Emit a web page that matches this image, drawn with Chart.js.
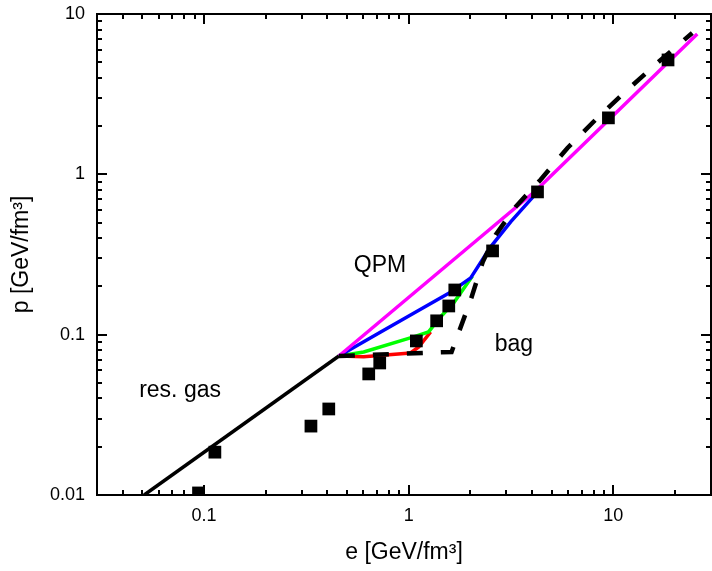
<!DOCTYPE html>
<html>
<head>
<meta charset="utf-8">
<script src="https://cdn.jsdelivr.net/npm/chart.js@4/dist/chart.umd.min.js"></script>
<style>
  html, body { margin: 0; padding: 0; background: #fff; }
</style>
</head>
<body>
<canvas id="myChart" width="712" height="571"></canvas>
<script>
const FONT = "'Liberation Sans', Arial, sans-serif";

// data points (squares)
const SQUARE_E = [0.094, 0.113, 0.333, 0.407, 0.638, 0.722, 1.09, 1.37, 1.57, 1.68, 2.57, 4.26, 9.46, 18.5];
const SQUARE_P = [0.0103, 0.0185, 0.0269, 0.0344, 0.0569, 0.0666, 0.0914, 0.122, 0.151, 0.190, 0.333, 0.777, 2.25, 5.17];

// resonance gas
const RES_GAS_E = [0.051, 0.456];
const RES_GAS_P = [0.01, 0.0736];

// bag model (dashed)
const BAG_E = [0.456, 1.62, 2.01, 2.30, 2.66, 3.33, 4.40, 5.97, 8.36, 11.7, 16.4, 24.3];
const BAG_P = [0.0736, 0.078, 0.165, 0.284, 0.419, 0.627, 0.923, 1.46, 2.25, 3.36, 4.95, 7.62];

// QPM curves
const QPM_E = [0.456, 4.16, 25.7];
const QPM_P = [0.0736, 0.787, 7.5];

const BLUE_E = [0.456, 0.730, 1.057, 1.60, 2.01, 2.51, 3.15, 4.26];
const BLUE_P = [0.0736, 0.104, 0.136, 0.184, 0.226, 0.352, 0.505, 0.777];

const GREEN_E = [0.456, 0.603, 1.057, 1.25, 1.43, 1.66, 1.94, 2.05];
const GREEN_P = [0.0736, 0.078, 0.0969, 0.104, 0.129, 0.158, 0.210, 0.232];

const RED_E = [0.456, 0.603, 1.02, 1.12, 1.28];
const RED_P = [0.0736, 0.0727, 0.0769, 0.0838, 0.104];

// axis ticks
const X_MAJOR = [0.1, 1, 10];
const X_LABELS = ['0.1', '1', '10'];
const Y_MAJOR = [0.01, 0.1, 1, 10];
const Y_LABELS = ['0.01', '0.1', '1', '10'];

// text labels in the plot
const NOTES = [
  { text: 'QPM', e: 0.539, p: 0.246 },
  { text: 'bag', e: 2.63, p: 0.079 },
  { text: 'res. gas', e: 0.0482, p: 0.0408 },
];

function toPoints(xs, ys) {
  return xs.map((x, i) => ({ x: x, y: ys[i] }));
}

function logTicks(min, max) {
  let vals = [];
  for (let d = -3; d <= 2; d++) {
    for (let m = 1; m <= 9; m++) {
      let v = +(m * Math.pow(10, d)).toPrecision(3);
      if (v >= min * 0.999 && v <= max * 1.001) vals.push(v);
    }
  }
  return vals;
}

function lineSet(data, color, width, dash) {
  return {
    type: 'line',
    data: data,
    borderColor: color,
    borderWidth: width,
    borderDash: dash || [],
    pointRadius: 0,
    tension: 0,
    fill: false,
  };
}

function noPadding(scale) {
  scale.paddingLeft = 0;
  scale.paddingRight = 0;
  scale.paddingTop = 0;
  scale.paddingBottom = 0;
}

const frameTicks = {
  id: 'frameTicks',
  afterDatasetsDraw(chart) {
    const ctx = chart.ctx;
    const a = chart.chartArea;
    const xs = chart.scales.x;
    const ys = chart.scales.y;
    ctx.save();
    ctx.strokeStyle = '#000';
    ctx.lineWidth = 2;
    ctx.strokeRect(a.left, a.top, a.right - a.left, a.bottom - a.top);
    ctx.beginPath();
    logTicks(0.03, 30).forEach((v) => {
      let px = Math.round(xs.getPixelForValue(v));
      let len = X_MAJOR.includes(v) ? 10 : 5;
      ctx.moveTo(px, a.bottom);
      ctx.lineTo(px, a.bottom - len);
      ctx.moveTo(px, a.top);
      ctx.lineTo(px, a.top + len);
    });
    logTicks(0.01, 10).forEach((v) => {
      let py = Math.round(ys.getPixelForValue(v));
      let len = Y_MAJOR.includes(v) ? 10 : 5;
      ctx.moveTo(a.left, py);
      ctx.lineTo(a.left + len, py);
      ctx.moveTo(a.right, py);
      ctx.lineTo(a.right - len, py);
    });
    ctx.stroke();

    ctx.fillStyle = '#000';
    ctx.font = '23px ' + FONT;
    ctx.textAlign = 'left';
    ctx.textBaseline = 'alphabetic';
    NOTES.forEach((n) => {
      ctx.fillText(n.text, xs.getPixelForValue(n.e), ys.getPixelForValue(n.p));
    });
    ctx.restore();
  },
};

const CHART = document.getElementById('myChart').getContext('2d');

let eosChart = new Chart(CHART, {
  type: 'scatter',
  data: {
    datasets: [
      {
        type: 'scatter',
        data: toPoints(SQUARE_E, SQUARE_P),
        pointStyle: 'rect',
        pointRadius: 9,
        backgroundColor: '#000',
        borderWidth: 0,
      },
      lineSet(toPoints(RES_GAS_E, RES_GAS_P), '#000', 3.5),
      lineSet(toPoints(BAG_E, BAG_P), '#000', 4.5, [16, 18]),
      lineSet(toPoints(QPM_E, QPM_P), '#ff00ff', 3.5),
      lineSet(toPoints(BLUE_E, BLUE_P), '#0000ff', 3.5),
      lineSet(toPoints(GREEN_E, GREEN_P), '#00ff00', 3.5),
      lineSet(toPoints(RED_E, RED_P), '#ff0000', 3.5),
    ],
  },
  options: {
    responsive: false,
    animation: false,
    layout: { autoPadding: false, padding: { top: 14, right: 1, left: 0, bottom: 0 } },
    plugins: {
      legend: { display: false },
      tooltip: { enabled: false },
    },
    scales: {
      x: {
        type: 'logarithmic',
        min: 0.03,
        max: 30,
        grid: { display: false, drawTicks: false },
        border: { display: false },
        afterBuildTicks: (scale) => {
          scale.ticks = X_MAJOR.map((v) => ({ value: v }));
        },
        afterFit: (scale) => {
          scale.height = 76;
          noPadding(scale);
        },
        ticks: {
          autoSkip: false,
          maxRotation: 0,
          padding: 10,
          color: '#000',
          font: { family: FONT, size: 18 },
          callback: (v) => X_LABELS[X_MAJOR.indexOf(v)],
        },
        title: {
          display: true,
          text: 'e [GeV/fm³]',
          color: '#000',
          font: { family: FONT, size: 23 },
          padding: { top: 0, bottom: 5 },
        },
      },
      y: {
        type: 'logarithmic',
        min: 0.01,
        max: 10,
        grid: { display: false, drawTicks: false },
        border: { display: false },
        afterBuildTicks: (scale) => {
          scale.ticks = Y_MAJOR.map((v) => ({ value: v }));
        },
        afterFit: (scale) => {
          scale.width = 97;
          noPadding(scale);
        },
        ticks: {
          autoSkip: false,
          padding: 12,
          color: '#000',
          font: { family: FONT, size: 18 },
          callback: (v) => Y_LABELS[Y_MAJOR.indexOf(v)],
        },
        title: {
          display: true,
          text: 'p [GeV/fm³]',
          color: '#000',
          font: { family: FONT, size: 23 },
          padding: { top: 8, bottom: 0 },
        },
      },
    },
  },
  plugins: [frameTicks],
});
</script>
</body>
</html>
